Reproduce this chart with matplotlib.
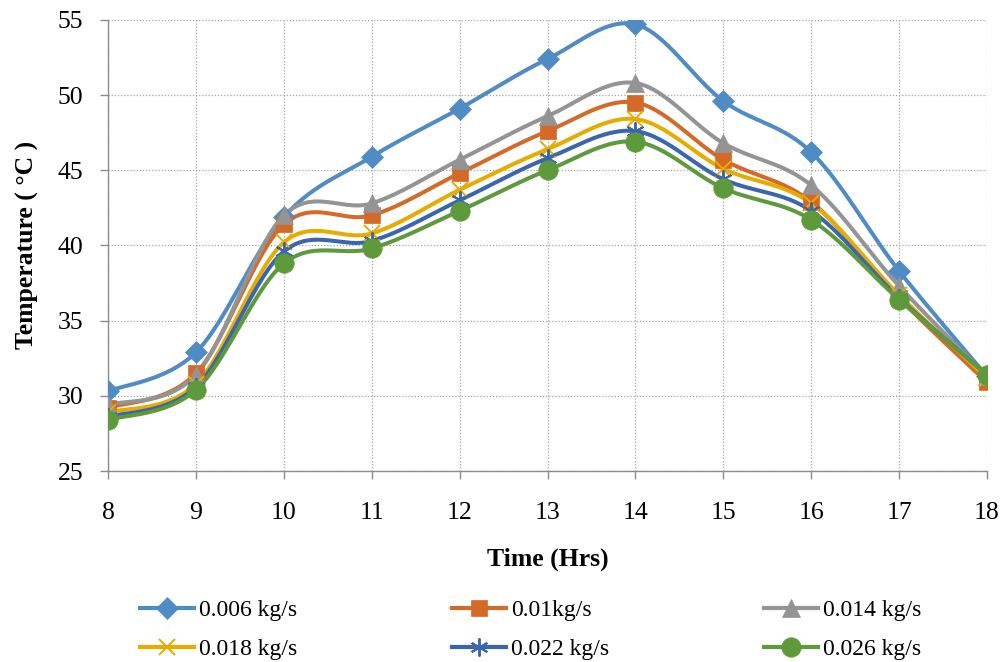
import numpy as np
import matplotlib
matplotlib.use("Agg")
import matplotlib.pyplot as plt
from matplotlib.lines import Line2D

# Measured temperatures over the day for each mass flow rate
hours = [8, 9, 10, 11, 12, 13, 14, 15, 16, 17, 18]
t_0006 = [30.3, 32.9, 41.9, 45.9, 49.1, 52.4, 54.7, 49.6, 46.2, 38.3, 31.3]
t_0010 = [29.2, 31.5, 41.4, 42.0, 44.8, 47.6, 49.5, 45.7, 42.9, 36.5, 30.9]
t_0014 = [29.4, 31.4, 42.0, 42.8, 45.7, 48.6, 50.8, 46.8, 44.0, 37.3, 31.3]
t_0018 = [28.9, 30.8, 40.2, 40.8, 43.7, 46.4, 48.4, 45.1, 42.8, 36.7, 31.2]
t_0022 = [28.6, 30.6, 39.6, 40.3, 43.0, 45.8, 47.6, 44.4, 42.3, 36.5, 31.4]
t_0026 = [28.4, 30.4, 38.8, 39.8, 42.3, 45.0, 46.9, 43.8, 41.7, 36.4, 31.4]

labels = ["0.006 kg/s", "0.01kg/s", "0.014 kg/s",
          "0.018 kg/s", "0.022 kg/s", "0.026 kg/s"]
series = [t_0006, t_0010, t_0014, t_0018, t_0022, t_0026]
colors = ["#4F8BC4", "#D56A28", "#949494", "#E6AD00", "#3A66B0", "#5E9A3C"]
markers = ["D", "s", "^", "x", (6, 2, 0), "o"]
msizes = [11, 12, 13, 12, 13, 14]


def smooth(x, y, n=30):
    """Catmull-Rom style smoothing between consecutive points."""
    x = np.asarray(x, float)
    y = np.asarray(y, float)
    px = np.concatenate([[x[0]], x, [x[-1]]])
    py = np.concatenate([[y[0]], y, [y[-1]]])
    xs, ys = [], []
    for i in range(1, len(px) - 2):
        p0 = np.array([px[i - 1], py[i - 1]])
        p1 = np.array([px[i], py[i]])
        p2 = np.array([px[i + 1], py[i + 1]])
        p3 = np.array([px[i + 2], py[i + 2]])
        c1 = p1 + (p2 - p0) / 6.0
        c2 = p2 - (p3 - p1) / 6.0
        t = np.linspace(0, 1, n)[:, None]
        pts = ((1 - t) ** 3) * p1 + 3 * ((1 - t) ** 2) * t * c1 \
            + 3 * (1 - t) * t ** 2 * c2 + t ** 3 * p2
        xs.append(pts[:, 0])
        ys.append(pts[:, 1])
    return np.concatenate(xs), np.concatenate(ys)


plt.rcParams["font.family"] = ["Liberation Serif", "DejaVu Serif"]

fig = plt.figure(figsize=(10.01, 6.62), dpi=100)
ax = fig.add_axes([0.108, 0.2885, 0.878, 0.6815])

handles = []
for vals, c, m, ms, lab in zip(series, colors, markers, msizes, labels):
    sx, sy = smooth(hours, vals)
    ax.plot(sx, sy, color=c, lw=2.9, solid_capstyle="round", zorder=3)
    mew = 1.4 if m in ("x", (6, 2, 0)) else 0.5
    ax.plot(hours, vals, linestyle="none", marker=m, ms=ms, color=c,
            markeredgecolor=c, markeredgewidth=mew, zorder=4)
    handles.append(Line2D([], [], color=c, lw=3.0, marker=m, ms=ms,
                          markeredgecolor=c, markeredgewidth=mew))

ax.set_xlim(8, 18)
ax.set_ylim(25, 55)
ax.set_xticks(hours)
ax.set_yticks(np.arange(25, 56, 5))
ax.grid(True, color="#A6A6A6", linestyle=(0, (1, 1.5)), linewidth=0.9)
ax.set_axisbelow(True)
for side in ("top", "right"):
    ax.spines[side].set_visible(False)
for side in ("left", "bottom"):
    ax.spines[side].set_color("#8C8C8C")
    ax.spines[side].set_linewidth(1.0)
ax.tick_params(axis="both", colors="#8C8C8C", labelcolor="black",
               labelsize=18.5, length=6, width=1.0, direction="out")
ax.tick_params(axis="x", pad=16.5)
ax.tick_params(axis="y", pad=12)

ax.set_xlabel("Time (Hrs)", fontsize=18.5, fontweight="bold", labelpad=17)
ax.set_ylabel("Temperature ( °C )", fontsize=18.5, fontweight="bold",
              labelpad=13)

# legend entries laid out row by row
order = [0, 3, 1, 4, 2, 5]
fig.legend([handles[i] for i in order], [labels[i] for i in order],
           loc="center", bbox_to_anchor=(0.530, 0.0485),
           ncol=3, frameon=False, fontsize=17, handlelength=2.3,
           handletextpad=0.2, columnspacing=6.56, labelspacing=0.76,
           borderpad=0.0)

fig.savefig("out.png", dpi=100)
